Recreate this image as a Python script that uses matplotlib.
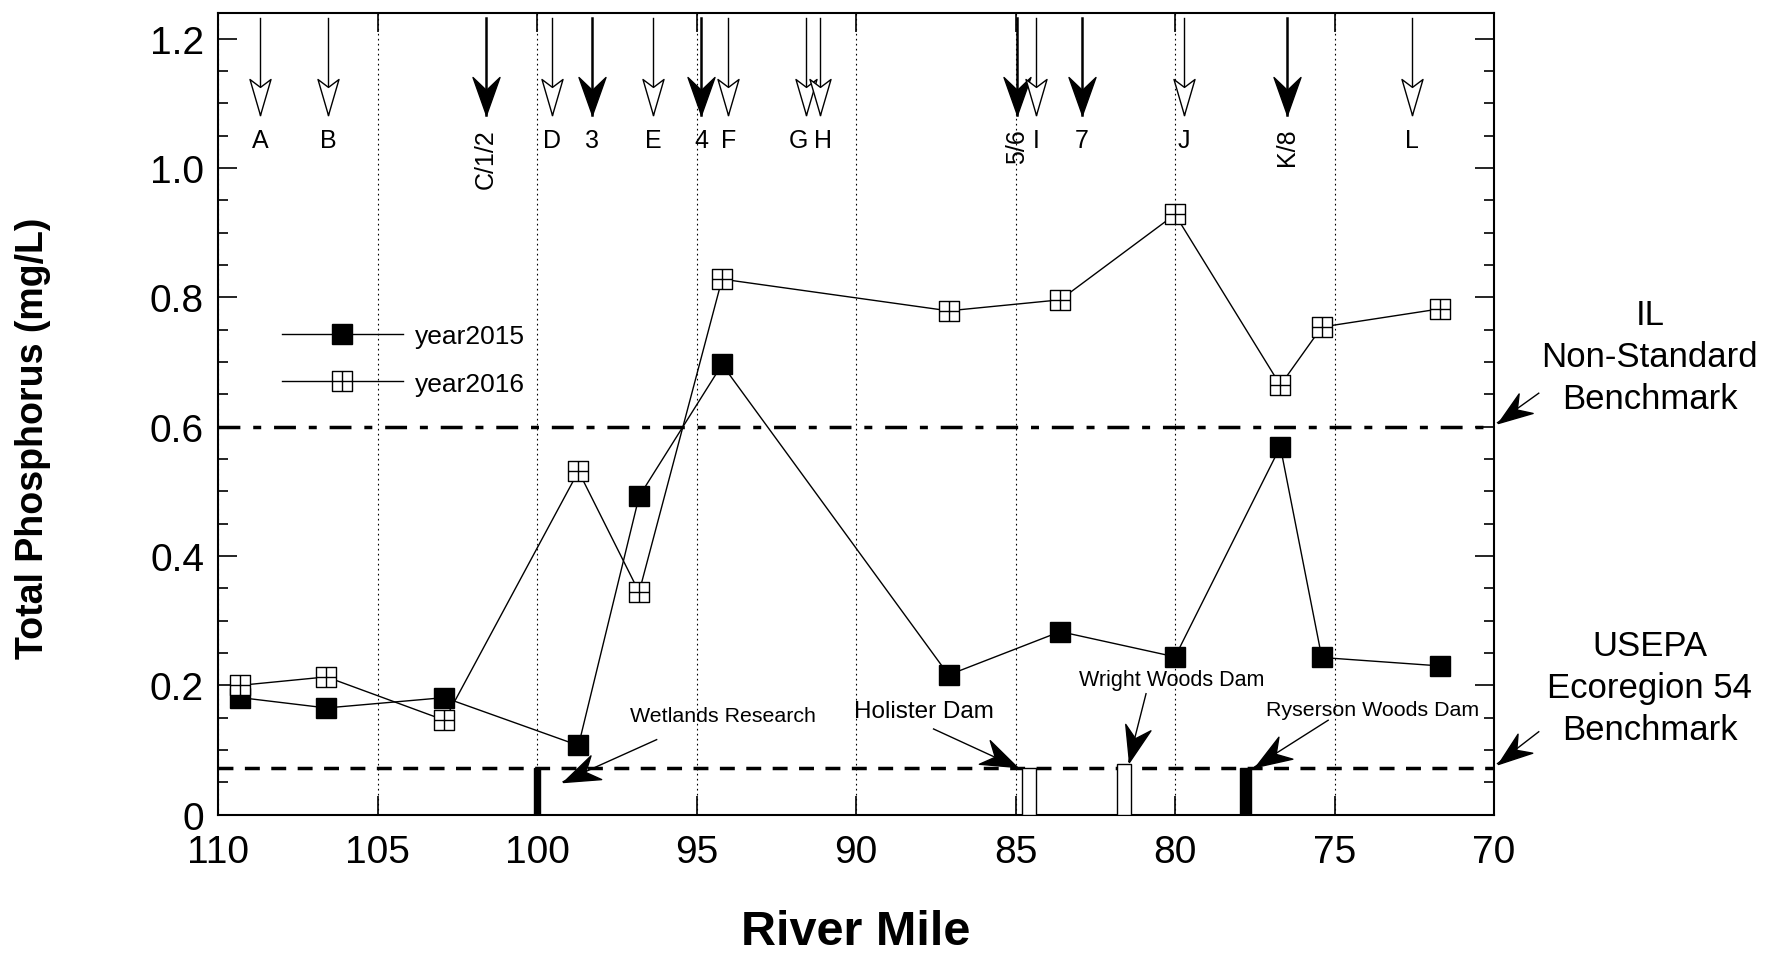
import numpy as np
import matplotlib
matplotlib.use('Agg')
import matplotlib.pyplot as plt
from matplotlib.path import Path
from matplotlib.markers import MarkerStyle
from matplotlib.ticker import MultipleLocator

plt.rcParams['font.family'] = ['Liberation Sans', 'DejaVu Sans']

# sampling sites
river_mile = [109.3, 106.6, 102.9, 98.7, 96.8, 94.2, 87.1, 83.6, 80.0, 76.7, 75.4, 71.7]
tp_2015 = [0.181, 0.165, 0.181, 0.107, 0.492, 0.696, 0.216, 0.283, 0.244, 0.569, 0.243, 0.230]
tp_2016 = [0.200, 0.213, 0.146, 0.531, 0.344, 0.828, 0.779, 0.796, 0.928, 0.664, 0.754, 0.782]

# stations marked along the top
station_labels = ['A', 'B', 'C/1/2', 'D', '3', 'E', '4', 'F', 'G', 'H', '5/6', 'I', '7', 'J', 'K/8', 'L']
station_miles = [108.68, 106.55, 101.6, 99.53, 98.28, 96.36, 94.86, 94.0, 91.58, 91.12,
                 84.96, 84.35, 82.93, 79.72, 76.48, 72.56]

# dams
dam_names = ['Wetlands Research', 'Holister Dam', 'Wright Woods Dam', 'Ryserson Woods Dam']
dam_miles = [100.0, 84.58, 81.6, 77.8]
dam_heights = [0.0725, 0.0725, 0.078, 0.0725]

# benchmarks
il_benchmark = 0.6
usepa_benchmark = 0.0725

DPI = 100
fig = plt.figure(figsize=(17.81, 9.54), dpi=DPI)
ax = fig.add_axes([0.1224, 0.145, 0.7165, 0.8407])
ax.set_xlim(110, 70)
ax.set_ylim(0, 1.24)


def dart(tail, tip, length, half, filled, trans=None, lw=1.0, notch=0.72):
	# thin shaft + notched arrow head drawn as a rotated marker
	if trans is None:
		trans = ax.transData
	p0 = trans.transform(tail)
	p1 = trans.transform(tip)
	ang = np.degrees(np.arctan2(p1[1]-p0[1], p1[0]-p0[0]))
	head = Path([(0, 0), (-length, half), (-notch*length, 0), (-length, -half), (0, 0)],
				[Path.MOVETO, Path.LINETO, Path.LINETO, Path.LINETO, Path.CLOSEPOLY])
	ax.plot([tail[0], tip[0]], [tail[1], tip[1]], color='k', lw=lw, transform=trans,
			clip_on=False, zorder=5)
	ax.plot([tip[0]], [tip[1]], ls='none',
			marker=MarkerStyle(head, joinstyle='miter').rotated(deg=ang),
			ms=2*length*72/DPI, mfc='k' if filled else 'w', mec='k', mew=1,
			transform=trans, clip_on=False, zorder=6)


# square with a cross inside
box = Path([(-1, -1), (1, -1), (1, 1), (-1, 1), (-1, -1), (0, -1), (0, 1), (-1, 0), (1, 0)],
		   [Path.MOVETO, Path.LINETO, Path.LINETO, Path.LINETO, Path.CLOSEPOLY,
			Path.MOVETO, Path.LINETO, Path.MOVETO, Path.LINETO])

ax.plot(river_mile, tp_2015, color='k', lw=1, marker='s', ms=15, mfc='k', mec='k',
		label='year2015', zorder=4)
ax.plot(river_mile, tp_2016, color='k', lw=1, marker=box, ms=15, mfc='w', mec='k', mew=1,
		label='year2016', zorder=4)

ax.axhline(il_benchmark, color='k', lw=2.5, ls=(0, (6.3, 3.7, 2.3, 3.7)), zorder=3)
ax.axhline(usepa_benchmark, color='k', lw=2.5, ls=(0, (4.3, 3.3)), zorder=3)

# dam bars
dam_filled = [True, False, False, True]
dam_widths = [0.2, 0.45, 0.45, 0.34]
for m, h, w, f in zip(dam_miles, dam_heights, dam_widths, dam_filled):
	ax.bar(m, h, width=w, color='k' if f else 'w', edgecolor='k', lw=1, zorder=4)

# dam annotations: text position, arrow tail, arrow tip
dam_text = [(97.07, 0.154, 'left', 15.4), (90.05, 0.160, 'left', 17.5),
			(80.12, 0.209, 'center', 15.5), (77.15, 0.163, 'left', 15.4)]
dam_tail = [(96.25, 0.116), (87.57, 0.1325), (80.91, 0.187), (75.2, 0.146)]
dam_tip = [(99.18, 0.051), (84.96, 0.0733), (81.45, 0.082), (77.5, 0.074)]
for name, (tx, ty, ha, fs), tail, tip in zip(dam_names, dam_text, dam_tail, dam_tip):
	ax.text(tx, ty, name, fontsize=fs, ha=ha, va='center', zorder=7)
	dart(tail, tip, 36, 13, True, notch=0.68)

# station arrows (x axis runs backwards, so +dx moves a label left)
label_shift = {'G': 0.24, 'H': -0.1}
for lab, m in zip(station_labels, station_miles):
	filled = not lab.isalpha()
	rot = 90 if len(lab) > 1 else 0
	if filled:
		dart((m, 1.232), (m, 1.081), 38, 13.5, True, lw=1.8, notch=0.66)
	else:
		dart((m, 1.232), (m, 1.081), 36, 10.5, False, lw=1.0, notch=0.78)
	ax.text(m + label_shift.get(lab, 0), 1.062, lab, fontsize=18, ha='center', va='top',
			rotation=rot)

# benchmark notes on the right
ax.text(1.122, 0.571, 'IL\nNon-Standard\nBenchmark', transform=ax.transAxes, fontsize=25,
		ha='center', va='center', multialignment='center', linespacing=1.35)
ax.text(1.122, 0.159, 'USEPA\nEcoregion 54\nBenchmark', transform=ax.transAxes, fontsize=25,
		ha='center', va='center', multialignment='center', linespacing=1.35)
dart((1.035, 0.5255), (1.0027, 0.4887), 34, 12, True, trans=ax.transAxes, notch=0.68)
dart((1.035, 0.1034), (1.0027, 0.0637), 34, 12, True, trans=ax.transAxes, notch=0.68)

# axes styling
ax.set_xticks(np.arange(110, 69, -5))
ax.set_xticklabels([str(v) for v in range(110, 69, -5)])
ax.set_yticks([0, 0.2, 0.4, 0.6, 0.8, 1.0, 1.2])
ax.set_yticklabels(['0', '0.2', '0.4', '0.6', '0.8', '1.0', '1.2'])
ax.yaxis.set_minor_locator(MultipleLocator(0.05))
ax.tick_params(which='both', direction='in', top=True, right=True, labelsize=28, width=1.2)
ax.tick_params(which='major', length=14, pad=10)
ax.tick_params(which='minor', length=7)
ax.tick_params(axis='x', pad=14)
ax.xaxis.grid(True, color='k', lw=0.8, ls=(0, (1.5, 3)))
for sp in ax.spines.values():
	sp.set_linewidth(1.5)

ax.set_ylabel('Total Phosphorus (mg/L)', fontsize=27, fontweight='bold')
ax.yaxis.set_label_coords(-0.131, 0.47)
ax.set_xlabel('River Mile', fontsize=35, fontweight='bold')
ax.xaxis.set_label_coords(0.5, -0.117)

ax.legend(loc='upper left', bbox_to_anchor=(0.05, 0.612), frameon=False, fontsize=19,
		  handlelength=4.6, handletextpad=0.45, labelspacing=0.9, borderpad=0,
		  borderaxespad=0, numpoints=1)

fig.savefig('out.png', dpi=DPI)
